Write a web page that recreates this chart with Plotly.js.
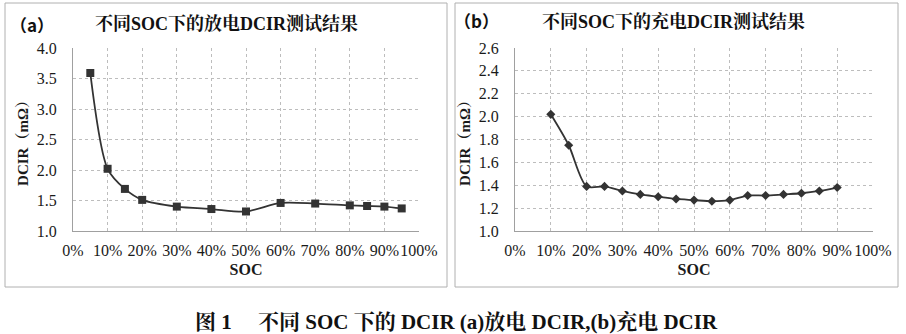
<!DOCTYPE html>
<html><head><meta charset="utf-8">
<script src="https://cdn.plot.ly/plotly-3.0.1.min.js"></script>
<style>html,body{margin:0;padding:0;background:#fff}#c{width:906px;height:334px}</style>
</head><body><div id="c"></div>
<script>
// Panel (a): discharge DCIR
const socA = [0.05, 0.10, 0.15, 0.20, 0.30, 0.40, 0.50, 0.60, 0.70, 0.80, 0.85, 0.90, 0.95];
const dcirA = [3.59, 2.02, 1.69, 1.51, 1.40, 1.36, 1.32, 1.46, 1.45, 1.42, 1.41, 1.40, 1.37];
// Panel (b): charge DCIR
const socB = [0.10, 0.15, 0.20, 0.25, 0.30, 0.35, 0.40, 0.45, 0.50, 0.55, 0.60, 0.65, 0.70, 0.75, 0.80, 0.85, 0.90];
const dcirB = [2.02, 1.75, 1.39, 1.39, 1.35, 1.32, 1.30, 1.28, 1.27, 1.26, 1.27, 1.31, 1.31, 1.32, 1.33, 1.35, 1.38];

const titleA = '不同SOC下的放电DCIR测试结果';
const titleB = '不同SOC下的充电DCIR测试结果';
const labelA = '（a）';
const labelB = '（b）';
const yTitle = 'DCIR（mΩ）';
const xTitle = 'SOC';
const caption = '图 1　 不同 SOC 下的 DCIR (a)放电 DCIR,(b)充电 DCIR';

const serif = 'Liberation Serif, Noto Serif CJK SC, Noto Sans CJK SC, serif';
const ink = '#333333';
const W = 906, H = 334;
const px = v => v / W, py = v => 1 - v / H;

const traces = [
  {x: socA, y: dcirA, xaxis: 'x', yaxis: 'y', mode: 'lines+markers',
   line: {color: ink, width: 1.8, shape: 'spline', smoothing: 0.8},
   marker: {symbol: 'square', size: 8, color: ink}},
  {x: socB, y: dcirB, xaxis: 'x2', yaxis: 'y2', mode: 'lines+markers',
   line: {color: ink, width: 1.8, shape: 'spline', smoothing: 0.8},
   marker: {symbol: 'diamond', size: 7, color: ink}}
];

function xa(dom, anchor) {
  return {domain: dom, anchor: anchor, range: [0, 1], dtick: 0.1, tick0: 0, tickformat: '.0%',
    showgrid: true, gridcolor: '#bdbdbd', griddash: 'dot', gridwidth: 1,
    showline: true, linecolor: '#a0a0a0', linewidth: 1, zeroline: false,
    ticks: '', ticklabelstandoff: 5, tickangle: 0,
    tickfont: {family: serif, size: 16, color: '#1a1a1a'},
    title: {text: '<b>' + xTitle + '</b>', font: {family: serif, size: 16, color: '#1a1a1a'}, standoff: 5}};
}
function ya(dom, anchor, range, dtick, fmt) {
  return {domain: dom, anchor: anchor, range: range, dtick: dtick, tickformat: fmt,
    showgrid: true, gridcolor: '#bdbdbd', griddash: 'dot', gridwidth: 1,
    showline: true, linecolor: '#a0a0a0', linewidth: 1, zeroline: false,
    ticks: '', ticklabelstandoff: 12,
    tickfont: {family: serif, size: 16, color: '#1a1a1a'},
    title: {text: '<b>' + yTitle + '</b>', font: {family: serif, size: 15, color: '#1a1a1a'}, standoff: 4}};
}

const yDom = [py(231), py(48)];
const layout = {
  width: W, height: H, margin: {l: 0, r: 0, t: 0, b: 0},
  paper_bgcolor: '#fff', plot_bgcolor: '#fff', showlegend: false,
  xaxis: xa([px(73), px(419)], 'y'),
  yaxis: ya(yDom, 'x', [1.0, 4.0], 0.5, '.1f'),
  xaxis2: xa([px(515), px(873)], 'y2'),
  yaxis2: ya(yDom, 'x2', [1.0, 2.6], 0.2, '.1f'),
  shapes: [
    {type: 'rect', xref: 'paper', yref: 'paper', x0: px(5), x1: px(447), y0: py(287), y1: py(3), line: {color: '#b0b0b0', width: 1}},
    {type: 'rect', xref: 'paper', yref: 'paper', x0: px(455), x1: px(898), y0: py(287), y1: py(3), line: {color: '#b0b0b0', width: 1}}
  ],
  annotations: [
    {text: '<b>' + labelA + '</b>', xref: 'paper', yref: 'paper', x: px(32), y: py(24), showarrow: false, xanchor: 'center', yanchor: 'middle', font: {family: 'Noto Sans CJK SC, sans-serif', size: 17, color: '#111'}},
    {text: '<b>' + titleA + '</b>', xref: 'paper', yref: 'paper', x: px(226), y: py(24), showarrow: false, xanchor: 'center', yanchor: 'middle', font: {family: serif, size: 18, color: '#111'}},
    {text: '<b>' + labelB + '</b>', xref: 'paper', yref: 'paper', x: px(476), y: py(20), showarrow: false, xanchor: 'center', yanchor: 'middle', font: {family: 'Noto Sans CJK SC, sans-serif', size: 17, color: '#111'}},
    {text: '<b>' + titleB + '</b>', xref: 'paper', yref: 'paper', x: px(673), y: py(22), showarrow: false, xanchor: 'center', yanchor: 'middle', font: {family: serif, size: 18, color: '#111'}},
    {text: '<b>' + caption + '</b>', xref: 'paper', yref: 'paper', x: px(456), y: py(322), showarrow: false, xanchor: 'center', yanchor: 'middle', font: {family: serif, size: 21, color: '#111'}}
  ]
};

Plotly.newPlot('c', traces, layout, {staticPlot: true, displayModeBar: false});
</script>
</body></html>
